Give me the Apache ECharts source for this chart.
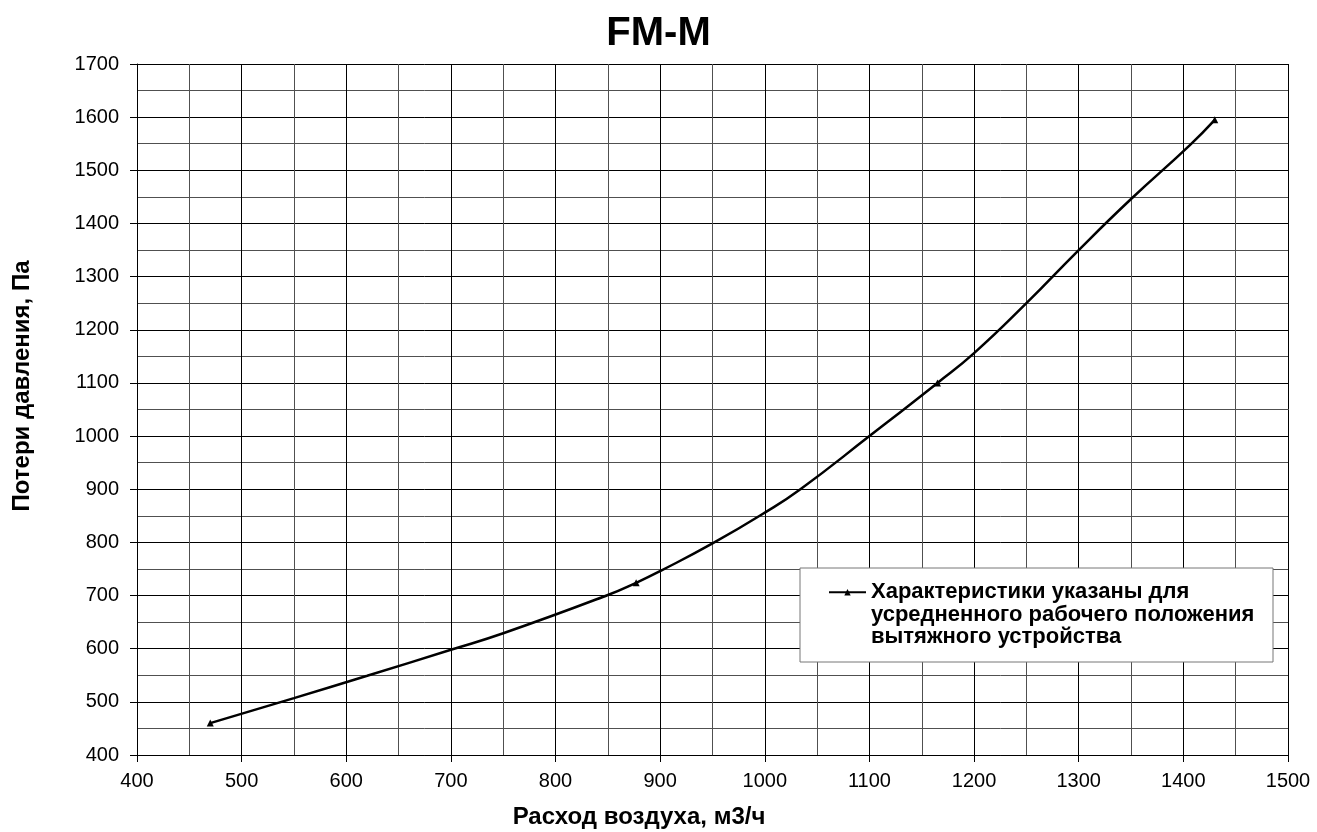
<!DOCTYPE html>
<html>
<head>
<meta charset="utf-8">
<script src="https://cdn.jsdelivr.net/npm/echarts@6/dist/echarts.min.js"></script>
<style>html,body{margin:0;padding:0;background:#fff}#c{width:1317px;height:832px}</style>
</head>
<body>
<div id="c"></div>
<script>
// Curve: air flow (m3/h) and pressure loss (Pa)
var flowValues = [470, 550, 620, 700, 750, 850, 877, 900, 950, 1000, 1034, 1100, 1165, 1200, 1250, 1300, 1350, 1406, 1430];
var pressureValues = [460, 507, 549, 598, 629, 701, 724, 746, 798, 856, 900, 1000, 1100, 1156, 1250, 1350, 1446, 1547, 1595];
// Flows where the original shows a marker
var markerFlows = [470, 877, 1165, 1430];
var xTicks = [400, 500, 600, 700, 800, 900, 1000, 1100, 1200, 1300, 1400, 1500];
var yTicks = [400, 500, 600, 700, 800, 900, 1000, 1100, 1200, 1300, 1400, 1500, 1600, 1700];
var titleText = 'FM-M';
var xName = 'Расход воздуха, м3/ч';
var yName = 'Потери давления, Па';
var legendLines = ['Характеристики указаны для', 'усредненного рабочего положения', 'вытяжного устройства'];
var seriesName = legendLines.join('\n');

var FONT = "'Liberation Sans', Arial, sans-serif";
var chart = echarts.init(document.getElementById('c'), null, {renderer: 'canvas'});
var data = flowValues.map(function (x, i) {
  return {value: [x, pressureValues[i]], symbol: markerFlows.indexOf(x) >= 0 ? 'triangle' : 'none'};
});
var plain = function (v) { return String(v); };
chart.setOption({
  animation: false,
  backgroundColor: '#fff',
  title: {
    text: titleText, left: 'center', top: 9,
    textStyle: {fontFamily: FONT, fontSize: 40, fontWeight: 'bold', color: '#000'}
  },
  grid: {left: 137, right: 29, top: 64, bottom: 77},
  xAxis: {
    type: 'value', min: xTicks[0], max: xTicks[xTicks.length - 1], interval: 100,
    axisLine: {show: true, lineStyle: {color: '#000', width: 1}},
    axisTick: {show: true, length: 7, lineStyle: {color: '#000'}},
    axisLabel: {fontFamily: FONT, fontSize: 20, color: '#000', margin: 16, formatter: plain},
    splitLine: {show: true, lineStyle: {color: '#000', width: 1}},
    minorTick: {show: false, splitNumber: 2},
    minorSplitLine: {show: true, lineStyle: {color: '#505050', width: 1}}
  },
  yAxis: {
    type: 'value', min: yTicks[0], max: yTicks[yTicks.length - 1], interval: 100,
    axisLine: {show: true, lineStyle: {color: '#000', width: 1}},
    axisTick: {show: true, length: 7, lineStyle: {color: '#000'}},
    axisLabel: {fontFamily: FONT, fontSize: 20, color: '#000', margin: 18, formatter: plain},
    splitLine: {show: true, lineStyle: {color: '#000', width: 1}},
    minorTick: {show: false, splitNumber: 2},
    minorSplitLine: {show: true, lineStyle: {color: '#505050', width: 1}}
  },
  legend: {
    left: 828, top: 536,
    orient: 'vertical',
    padding: 0,
    itemWidth: 37, itemHeight: 8,
    itemGap: 0,
    z: 6,
    formatter: function () {
      return ' \n \n' + legendLines.join('\n');
    },
    textStyle: {fontFamily: FONT, fontSize: 22, fontWeight: 'bold', color: '#000', lineHeight: 22.5},
    data: [{name: seriesName}]
  },
  graphic: [
    {type: 'rect', z: 5, shape: {x: 800, y: 568, width: 473, height: 94}, style: {fill: '#fff', stroke: '#777', lineWidth: 1}},
    {type: 'text', x: 639, y: 817, style: {text: xName, font: 'bold 24px ' + FONT, fill: '#000', align: 'center', verticalAlign: 'middle'}},
    {type: 'text', x: 22, y: 386, rotation: Math.PI / 2, style: {text: yName, font: 'bold 24px ' + FONT, fill: '#000', align: 'center', verticalAlign: 'middle'}}
  ],
  series: [{
    name: seriesName,
    type: 'line',
    smooth: 0.5,
    symbol: 'triangle',
    symbolSize: 7,
    showAllSymbol: true,
    lineStyle: {color: '#000', width: 2.5},
    itemStyle: {color: '#000'},
    data: data
  }]
});
</script>
</body>
</html>
